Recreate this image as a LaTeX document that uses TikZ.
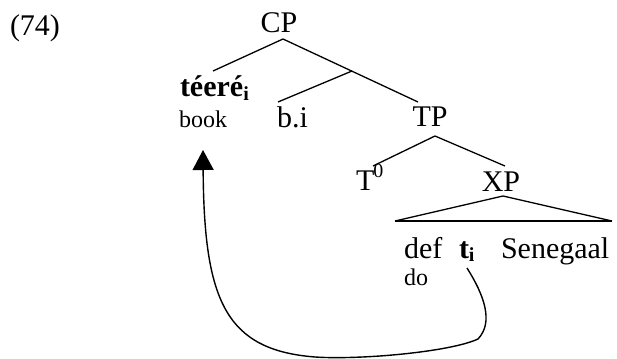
\documentclass[tikz,border=0pt]{standalone}
\usepackage{fontspec}
\setmainfont{Liberation Serif}
\usetikzlibrary{arrows.meta}
\newcommand{\mainsz}{\fontsize{30}{36}\selectfont}
\newcommand{\glosssz}{\fontsize{24}{28}\selectfont}
\newcommand{\subi}{\raisebox{-3.5pt}{\fontsize{20}{24}\selectfont\bfseries i}}
\newcommand{\supzero}{\raisebox{13pt}{\fontsize{20}{24}\selectfont 0}}
\begin{document}
\begin{tikzpicture}[x=1pt,y=-1pt,
  lbl/.style={inner sep=0pt,outer sep=0pt,font=\mainsz},
  gls/.style={inner sep=0pt,outer sep=0pt,font=\glosssz},
  branch/.style={line width=1.3pt},
  movearrow/.style={line width=1.4pt,-{Triangle[length=20pt,width=21pt]}}]
\useasboundingbox (0,0) rectangle (617,358);
% labels
\node[lbl,anchor=base west] (ex) at (10,36) {(74)};
\node[lbl,anchor=base] (CP) at (279,33) {CP};
\node[lbl,anchor=base west] (teere) at (180,97) {\textbf{téeré}\subi};
\node[gls,anchor=base west] (book) at (179,128) {book};
\node[lbl,anchor=base west] (bi) at (277,128) {b.i};
\node[lbl,anchor=base] (TP) at (430,127) {TP};
\node[lbl,anchor=base west] (T0) at (356,190) {T\kern-1pt\supzero};
\node[lbl,anchor=base] (XP) at (501,191) {XP};
\node[lbl,anchor=base west] (def) at (404,258) {def};
\node[lbl,anchor=base west] (ti) at (459,258) {\textbf{t}\subi};
\node[lbl,anchor=base west] (sen) at (501,258) {Senegaal};
\node[gls,anchor=base west] (do) at (404,285) {do};
% branching points
\coordinate (cpB) at (283,39);
\coordinate (teT) at (213,71);
\coordinate (cbar) at (352,71);
\coordinate (biT) at (278,102);
\coordinate (tpT) at (418,102);
\coordinate (tpB) at (435,136);
\coordinate (t0T) at (373,166);
\coordinate (xpT) at (505,166);
\coordinate (xpB) at (503,196);
\coordinate (triL) at (395,221);
\coordinate (triR) at (612,221);
\coordinate (mvS) at (467,268);
\coordinate (mvE) at (203,150);
% tree
\draw[branch] (teT) -- (cpB) -- (tpT);
\draw[branch] (biT) -- (cbar);
\draw[branch] (t0T) -- (tpB) -- (xpT);
\draw[branch] (triL) -- (xpB) -- (triR);
\draw[line width=2.4pt] (triL) -- (triR);
% movement arrow
\draw[movearrow] (mvS) .. controls (484,295) and (494,322) .. (478,339)
  .. controls (450,352) and (360,360) .. (315,357)
  .. controls (225,350) and (204,300) .. (mvE);
\end{tikzpicture}
\end{document}
